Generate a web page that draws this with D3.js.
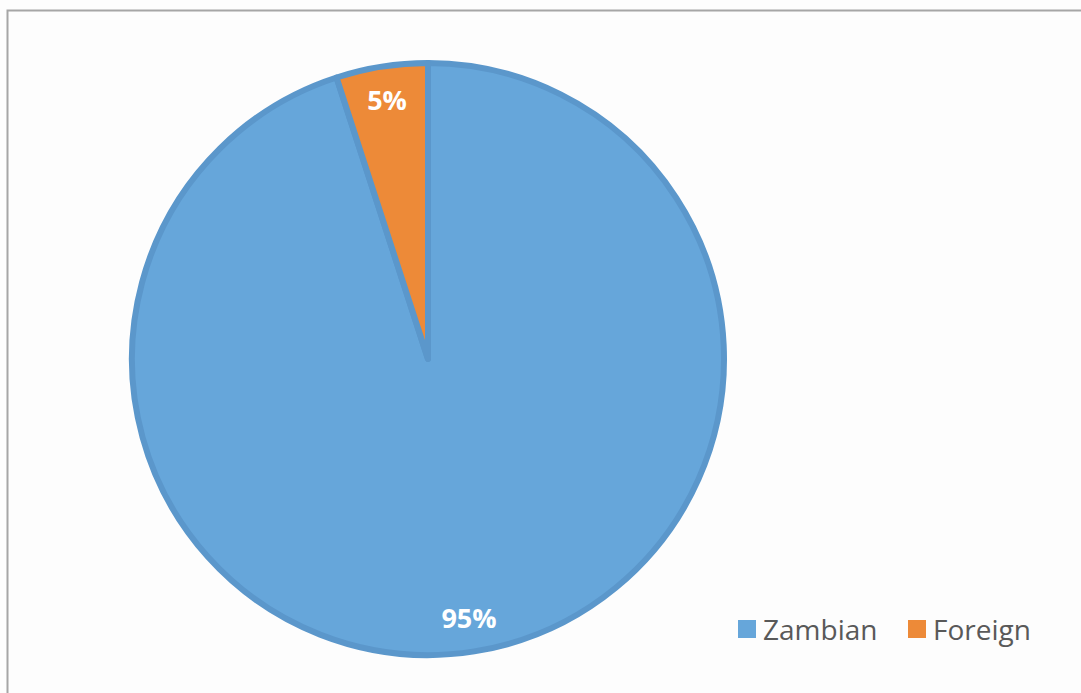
<!DOCTYPE html>
<html>
<head>
<meta charset="utf-8">
<script src="https://cdn.jsdelivr.net/npm/d3@7"></script>
<style>
  body { margin: 0; background: #fdfdfd; }
  svg { display: block; font-family: "Open Sans", sans-serif; }
</style>
</head>
<body>
<svg width="1081" height="693"></svg>
<script>
// data
const categories = ["Zambian", "Foreign"]
const shares = [95, 5]
const labels = ["95%", "5%"]
const colors = ["#66a6da", "#ed8a38"]

let svg = d3.select("svg")

// outer frame (only top and left edge visible)
svg.append("rect")
    .attr("x", 7.5)
    .attr("y", 10.5)
    .attr("width", 1200)
    .attr("height", 800)
    .attr("fill", "none")
    .attr("stroke", "#a6a6a6")
    .attr("stroke-width", 2)

const cx = 428, cy = 359, r = 296

let pie = d3.pie().sort(null).value(d => d)
let arcs = pie(shares)

let arc = d3.arc().innerRadius(0).outerRadius(r)
let labelArc = d3.arc().innerRadius(262).outerRadius(262)

let g = svg.append("g").attr("transform", `translate(${cx},${cy})`)

g.selectAll("path")
    .data(arcs)
    .join("path")
    .attr("d", arc)
    .attr("fill", (d, i) => colors[i])
    .attr("stroke", "#5b97cb")
    .attr("stroke-width", 6)
    .attr("stroke-linejoin", "round")

g.selectAll("text")
    .data(arcs)
    .join("text")
    .attr("transform", d => `translate(${labelArc.centroid(d)})`)
    .attr("text-anchor", "middle")
    .attr("dy", "0.36em")
    .attr("fill", "#ffffff")
    .attr("font-size", 27)
    .attr("font-weight", "bold")
    .text((d, i) => labels[i])

// legend
const legendX = [738, 908]
let legend = svg.append("g")
    .selectAll("g")
    .data(categories)
    .join("g")
    .attr("transform", (d, i) => `translate(${legendX[i]},620)`)

legend.append("rect")
    .attr("width", 18)
    .attr("height", 18)
    .attr("fill", (d, i) => colors[i])

legend.append("text")
    .attr("x", 25)
    .attr("y", 20)
    .attr("fill", "#595959")
    .attr("font-size", 28)
    .text(d => d)
</script>
</body>
</html>
